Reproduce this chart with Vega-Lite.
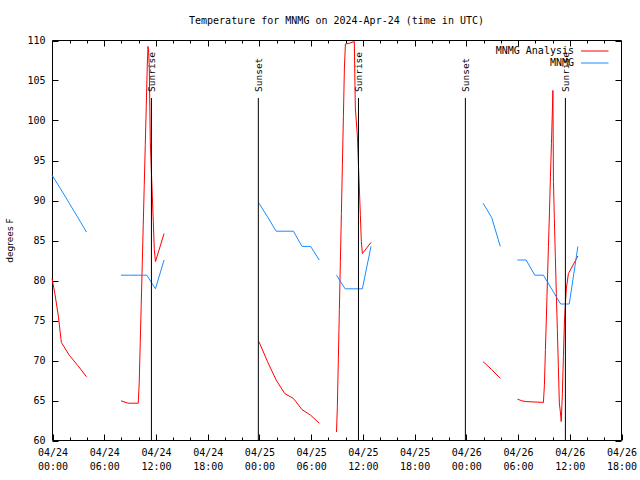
{
  "$schema": "https://vega.github.io/schema/vega-lite/v6.json",
  "width": 569,
  "height": 400,
  "autosize": "none",
  "padding": {"left": 52, "top": 40, "right": 19, "bottom": 40},
  "background": "white",
  "title": {"text": "Temperature for MNMG on 2024-Apr-24 (time in UTC)", "font": "DejaVu Sans Mono", "fontSize": 10, "fontWeight": "normal", "color": "black", "offset": 10},
  "config": {
    "font": "DejaVu Sans Mono",
    "view": {"stroke": "black", "strokeWidth": 1},
    "axis": {"tickColor": "black", "labelColor": "black", "domain": false, "grid": false, "tickWidth": 1, "ticks": true, "tickOpacity": 1, "tickOffset": 0.5, "zindex": 1}
  },
  "datasets": {
    "temps": [
      {"t": "2024-04-24T00:00:00Z", "v": 80.2, "s": "MNMG Analysis", "g": "r1"},
      {"t": "2024-04-24T00:20:00Z", "v": 78.3, "s": "MNMG Analysis", "g": "r1"},
      {"t": "2024-04-24T00:45:00Z", "v": 75.4, "s": "MNMG Analysis", "g": "r1"},
      {"t": "2024-04-24T01:05:00Z", "v": 72.2, "s": "MNMG Analysis", "g": "r1"},
      {"t": "2024-04-24T02:00:00Z", "v": 70.6, "s": "MNMG Analysis", "g": "r1"},
      {"t": "2024-04-24T03:00:00Z", "v": 69.3, "s": "MNMG Analysis", "g": "r1"},
      {"t": "2024-04-24T04:00:00Z", "v": 67.9, "s": "MNMG Analysis", "g": "r1"},
      {"t": "2024-04-24T08:00:00Z", "v": 64.9, "s": "MNMG Analysis", "g": "r2"},
      {"t": "2024-04-24T08:50:00Z", "v": 64.6, "s": "MNMG Analysis", "g": "r2"},
      {"t": "2024-04-24T10:00:00Z", "v": 64.6, "s": "MNMG Analysis", "g": "r2"},
      {"t": "2024-04-24T10:07:00Z", "v": 67.1, "s": "MNMG Analysis", "g": "r2"},
      {"t": "2024-04-24T10:14:00Z", "v": 72.1, "s": "MNMG Analysis", "g": "r2"},
      {"t": "2024-04-24T10:21:00Z", "v": 76.9, "s": "MNMG Analysis", "g": "r2"},
      {"t": "2024-04-24T10:28:00Z", "v": 81.9, "s": "MNMG Analysis", "g": "r2"},
      {"t": "2024-04-24T10:35:00Z", "v": 86.9, "s": "MNMG Analysis", "g": "r2"},
      {"t": "2024-04-24T10:42:00Z", "v": 91.8, "s": "MNMG Analysis", "g": "r2"},
      {"t": "2024-04-24T10:49:00Z", "v": 96.8, "s": "MNMG Analysis", "g": "r2"},
      {"t": "2024-04-24T10:56:00Z", "v": 101.7, "s": "MNMG Analysis", "g": "r2"},
      {"t": "2024-04-24T11:03:00Z", "v": 106.7, "s": "MNMG Analysis", "g": "r2"},
      {"t": "2024-04-24T11:08:00Z", "v": 109.2, "s": "MNMG Analysis", "g": "r2"},
      {"t": "2024-04-24T11:12:00Z", "v": 108.8, "s": "MNMG Analysis", "g": "r2"},
      {"t": "2024-04-24T11:17:00Z", "v": 106.7, "s": "MNMG Analysis", "g": "r2"},
      {"t": "2024-04-24T11:24:00Z", "v": 97.3, "s": "MNMG Analysis", "g": "r2"},
      {"t": "2024-04-24T11:31:00Z", "v": 94.0, "s": "MNMG Analysis", "g": "r2"},
      {"t": "2024-04-24T11:38:00Z", "v": 90.6, "s": "MNMG Analysis", "g": "r2"},
      {"t": "2024-04-24T11:45:00Z", "v": 87.3, "s": "MNMG Analysis", "g": "r2"},
      {"t": "2024-04-24T11:52:00Z", "v": 83.8, "s": "MNMG Analysis", "g": "r2"},
      {"t": "2024-04-24T12:00:00Z", "v": 82.3, "s": "MNMG Analysis", "g": "r2"},
      {"t": "2024-04-24T13:00:00Z", "v": 85.8, "s": "MNMG Analysis", "g": "r2"},
      {"t": "2024-04-25T00:00:00Z", "v": 72.3, "s": "MNMG Analysis", "g": "r3"},
      {"t": "2024-04-25T01:00:00Z", "v": 69.8, "s": "MNMG Analysis", "g": "r3"},
      {"t": "2024-04-25T02:00:00Z", "v": 67.5, "s": "MNMG Analysis", "g": "r3"},
      {"t": "2024-04-25T03:00:00Z", "v": 65.8, "s": "MNMG Analysis", "g": "r3"},
      {"t": "2024-04-25T04:00:00Z", "v": 65.2, "s": "MNMG Analysis", "g": "r3"},
      {"t": "2024-04-25T05:00:00Z", "v": 63.8, "s": "MNMG Analysis", "g": "r3"},
      {"t": "2024-04-25T06:00:00Z", "v": 63.1, "s": "MNMG Analysis", "g": "r3"},
      {"t": "2024-04-25T07:00:00Z", "v": 62.1, "s": "MNMG Analysis", "g": "r3"},
      {"t": "2024-04-25T09:00:00Z", "v": 61.0, "s": "MNMG Analysis", "g": "r4"},
      {"t": "2024-04-25T09:06:00Z", "v": 64.2, "s": "MNMG Analysis", "g": "r4"},
      {"t": "2024-04-25T09:13:00Z", "v": 70.2, "s": "MNMG Analysis", "g": "r4"},
      {"t": "2024-04-25T09:20:00Z", "v": 76.3, "s": "MNMG Analysis", "g": "r4"},
      {"t": "2024-04-25T09:27:00Z", "v": 82.3, "s": "MNMG Analysis", "g": "r4"},
      {"t": "2024-04-25T09:34:00Z", "v": 88.3, "s": "MNMG Analysis", "g": "r4"},
      {"t": "2024-04-25T09:41:00Z", "v": 94.4, "s": "MNMG Analysis", "g": "r4"},
      {"t": "2024-04-25T09:48:00Z", "v": 100.4, "s": "MNMG Analysis", "g": "r4"},
      {"t": "2024-04-25T09:55:00Z", "v": 106.5, "s": "MNMG Analysis", "g": "r4"},
      {"t": "2024-04-25T10:02:00Z", "v": 109.5, "s": "MNMG Analysis", "g": "r4"},
      {"t": "2024-04-25T10:30:00Z", "v": 109.6, "s": "MNMG Analysis", "g": "r4"},
      {"t": "2024-04-25T11:04:00Z", "v": 109.8, "s": "MNMG Analysis", "g": "r4"},
      {"t": "2024-04-25T11:11:00Z", "v": 101.5, "s": "MNMG Analysis", "g": "r4"},
      {"t": "2024-04-25T11:25:00Z", "v": 98.1, "s": "MNMG Analysis", "g": "r4"},
      {"t": "2024-04-25T11:32:00Z", "v": 94.8, "s": "MNMG Analysis", "g": "r4"},
      {"t": "2024-04-25T11:39:00Z", "v": 91.5, "s": "MNMG Analysis", "g": "r4"},
      {"t": "2024-04-25T11:46:00Z", "v": 88.1, "s": "MNMG Analysis", "g": "r4"},
      {"t": "2024-04-25T11:53:00Z", "v": 84.8, "s": "MNMG Analysis", "g": "r4"},
      {"t": "2024-04-25T12:00:00Z", "v": 83.3, "s": "MNMG Analysis", "g": "r4"},
      {"t": "2024-04-25T13:00:00Z", "v": 84.7, "s": "MNMG Analysis", "g": "r4"},
      {"t": "2024-04-26T02:00:00Z", "v": 69.8, "s": "MNMG Analysis", "g": "r5"},
      {"t": "2024-04-26T03:00:00Z", "v": 68.8, "s": "MNMG Analysis", "g": "r5"},
      {"t": "2024-04-26T04:00:00Z", "v": 67.7, "s": "MNMG Analysis", "g": "r5"},
      {"t": "2024-04-26T06:00:00Z", "v": 65.1, "s": "MNMG Analysis", "g": "r6"},
      {"t": "2024-04-26T06:30:00Z", "v": 64.9, "s": "MNMG Analysis", "g": "r6"},
      {"t": "2024-04-26T07:00:00Z", "v": 64.8, "s": "MNMG Analysis", "g": "r6"},
      {"t": "2024-04-26T09:00:00Z", "v": 64.7, "s": "MNMG Analysis", "g": "r6"},
      {"t": "2024-04-26T09:07:00Z", "v": 66.9, "s": "MNMG Analysis", "g": "r6"},
      {"t": "2024-04-26T09:14:00Z", "v": 71.3, "s": "MNMG Analysis", "g": "r6"},
      {"t": "2024-04-26T09:21:00Z", "v": 75.5, "s": "MNMG Analysis", "g": "r6"},
      {"t": "2024-04-26T09:28:00Z", "v": 80.0, "s": "MNMG Analysis", "g": "r6"},
      {"t": "2024-04-26T09:35:00Z", "v": 84.2, "s": "MNMG Analysis", "g": "r6"},
      {"t": "2024-04-26T09:42:00Z", "v": 88.4, "s": "MNMG Analysis", "g": "r6"},
      {"t": "2024-04-26T09:49:00Z", "v": 92.9, "s": "MNMG Analysis", "g": "r6"},
      {"t": "2024-04-26T09:56:00Z", "v": 97.1, "s": "MNMG Analysis", "g": "r6"},
      {"t": "2024-04-26T10:03:00Z", "v": 101.5, "s": "MNMG Analysis", "g": "r6"},
      {"t": "2024-04-26T10:06:00Z", "v": 103.7, "s": "MNMG Analysis", "g": "r6"},
      {"t": "2024-04-26T10:10:00Z", "v": 92.3, "s": "MNMG Analysis", "g": "r6"},
      {"t": "2024-04-26T10:16:00Z", "v": 87.7, "s": "MNMG Analysis", "g": "r6"},
      {"t": "2024-04-26T10:23:00Z", "v": 82.9, "s": "MNMG Analysis", "g": "r6"},
      {"t": "2024-04-26T10:30:00Z", "v": 78.3, "s": "MNMG Analysis", "g": "r6"},
      {"t": "2024-04-26T10:37:00Z", "v": 73.8, "s": "MNMG Analysis", "g": "r6"},
      {"t": "2024-04-26T10:44:00Z", "v": 69.2, "s": "MNMG Analysis", "g": "r6"},
      {"t": "2024-04-26T10:51:00Z", "v": 64.6, "s": "MNMG Analysis", "g": "r6"},
      {"t": "2024-04-26T10:58:00Z", "v": 63.5, "s": "MNMG Analysis", "g": "r6"},
      {"t": "2024-04-26T11:04:00Z", "v": 62.3, "s": "MNMG Analysis", "g": "r6"},
      {"t": "2024-04-26T11:08:00Z", "v": 64.0, "s": "MNMG Analysis", "g": "r6"},
      {"t": "2024-04-26T11:12:00Z", "v": 65.8, "s": "MNMG Analysis", "g": "r6"},
      {"t": "2024-04-26T11:19:00Z", "v": 70.4, "s": "MNMG Analysis", "g": "r6"},
      {"t": "2024-04-26T11:26:00Z", "v": 74.6, "s": "MNMG Analysis", "g": "r6"},
      {"t": "2024-04-26T11:33:00Z", "v": 77.1, "s": "MNMG Analysis", "g": "r6"},
      {"t": "2024-04-26T11:40:00Z", "v": 79.0, "s": "MNMG Analysis", "g": "r6"},
      {"t": "2024-04-26T11:54:00Z", "v": 80.8, "s": "MNMG Analysis", "g": "r6"},
      {"t": "2024-04-26T12:00:00Z", "v": 81.0, "s": "MNMG Analysis", "g": "r6"},
      {"t": "2024-04-26T13:00:00Z", "v": 83.0, "s": "MNMG Analysis", "g": "r6"},
      {"t": "2024-04-24T00:00:00Z", "v": 93.1, "s": "MNMG", "g": "b1"},
      {"t": "2024-04-24T01:00:00Z", "v": 91.4, "s": "MNMG", "g": "b1"},
      {"t": "2024-04-24T02:00:00Z", "v": 89.6, "s": "MNMG", "g": "b1"},
      {"t": "2024-04-24T03:00:00Z", "v": 87.8, "s": "MNMG", "g": "b1"},
      {"t": "2024-04-24T04:00:00Z", "v": 86.0, "s": "MNMG", "g": "b1"},
      {"t": "2024-04-24T08:00:00Z", "v": 80.6, "s": "MNMG", "g": "b2"},
      {"t": "2024-04-24T09:00:00Z", "v": 80.6, "s": "MNMG", "g": "b2"},
      {"t": "2024-04-24T10:00:00Z", "v": 80.6, "s": "MNMG", "g": "b2"},
      {"t": "2024-04-24T11:00:00Z", "v": 80.6, "s": "MNMG", "g": "b2"},
      {"t": "2024-04-24T12:00:00Z", "v": 78.9, "s": "MNMG", "g": "b2"},
      {"t": "2024-04-24T13:00:00Z", "v": 82.5, "s": "MNMG", "g": "b2"},
      {"t": "2024-04-25T00:00:00Z", "v": 89.6, "s": "MNMG", "g": "b3"},
      {"t": "2024-04-25T01:00:00Z", "v": 87.9, "s": "MNMG", "g": "b3"},
      {"t": "2024-04-25T02:00:00Z", "v": 86.1, "s": "MNMG", "g": "b3"},
      {"t": "2024-04-25T03:00:00Z", "v": 86.1, "s": "MNMG", "g": "b3"},
      {"t": "2024-04-25T04:00:00Z", "v": 86.1, "s": "MNMG", "g": "b3"},
      {"t": "2024-04-25T05:00:00Z", "v": 84.2, "s": "MNMG", "g": "b3"},
      {"t": "2024-04-25T06:00:00Z", "v": 84.2, "s": "MNMG", "g": "b3"},
      {"t": "2024-04-25T07:00:00Z", "v": 82.5, "s": "MNMG", "g": "b3"},
      {"t": "2024-04-25T09:00:00Z", "v": 80.6, "s": "MNMG", "g": "b4"},
      {"t": "2024-04-25T10:00:00Z", "v": 78.9, "s": "MNMG", "g": "b4"},
      {"t": "2024-04-25T11:00:00Z", "v": 78.9, "s": "MNMG", "g": "b4"},
      {"t": "2024-04-25T12:00:00Z", "v": 78.9, "s": "MNMG", "g": "b4"},
      {"t": "2024-04-25T13:00:00Z", "v": 84.2, "s": "MNMG", "g": "b4"},
      {"t": "2024-04-26T02:00:00Z", "v": 89.6, "s": "MNMG", "g": "b5"},
      {"t": "2024-04-26T03:00:00Z", "v": 87.8, "s": "MNMG", "g": "b5"},
      {"t": "2024-04-26T04:00:00Z", "v": 84.2, "s": "MNMG", "g": "b5"},
      {"t": "2024-04-26T06:00:00Z", "v": 82.5, "s": "MNMG", "g": "b6"},
      {"t": "2024-04-26T07:00:00Z", "v": 82.5, "s": "MNMG", "g": "b6"},
      {"t": "2024-04-26T08:00:00Z", "v": 80.6, "s": "MNMG", "g": "b6"},
      {"t": "2024-04-26T09:00:00Z", "v": 80.6, "s": "MNMG", "g": "b6"},
      {"t": "2024-04-26T10:00:00Z", "v": 78.8, "s": "MNMG", "g": "b6"},
      {"t": "2024-04-26T11:00:00Z", "v": 77.0, "s": "MNMG", "g": "b6"},
      {"t": "2024-04-26T12:00:00Z", "v": 77.0, "s": "MNMG", "g": "b6"},
      {"t": "2024-04-26T13:00:00Z", "v": 84.2, "s": "MNMG", "g": "b6"}
    ],
    "sun": [
      {"t": "2024-04-24T11:32:00Z", "label": "Sunrise"},
      {"t": "2024-04-24T23:56:00Z", "label": "Sunset"},
      {"t": "2024-04-25T11:33:00Z", "label": "Sunrise"},
      {"t": "2024-04-25T23:57:00Z", "label": "Sunset"},
      {"t": "2024-04-26T11:33:00Z", "label": "Sunrise"}
    ]
  },
  "resolve": {"axis": {"x": "independent", "y": "independent"}},
  "layer": [
    {
      "data": {"name": "temps"},
      "transform": [{"filter": "datum.s === 'MNMG Analysis'"}],
      "mark": {"type": "line", "strokeWidth": 1},
      "encoding": {
        "x": {"field": "t", "type": "temporal",
          "scale": {"type": "utc", "nice": false, "domain": [{"year": 2024, "month": 4, "date": 24, "hours": 0, "utc": true}, {"year": 2024, "month": 4, "date": 26, "hours": 18, "utc": true}]},
          "axis": {"orient": "bottom", "offset": -6, "tickSize": 6, "title": null,
            "values": [
              {"year": 2024, "month": 4, "date": 24, "hours": 0, "utc": true},
              {"year": 2024, "month": 4, "date": 24, "hours": 6, "utc": true},
              {"year": 2024, "month": 4, "date": 24, "hours": 12, "utc": true},
              {"year": 2024, "month": 4, "date": 24, "hours": 18, "utc": true},
              {"year": 2024, "month": 4, "date": 25, "hours": 0, "utc": true},
              {"year": 2024, "month": 4, "date": 25, "hours": 6, "utc": true},
              {"year": 2024, "month": 4, "date": 25, "hours": 12, "utc": true},
              {"year": 2024, "month": 4, "date": 25, "hours": 18, "utc": true},
              {"year": 2024, "month": 4, "date": 26, "hours": 0, "utc": true},
              {"year": 2024, "month": 4, "date": 26, "hours": 6, "utc": true},
              {"year": 2024, "month": 4, "date": 26, "hours": 12, "utc": true},
              {"year": 2024, "month": 4, "date": 26, "hours": 18, "utc": true}
            ],
            "labelExpr": "[utcFormat(datum.value, '%m/%d'), utcFormat(datum.value, '%H:%M')]",
            "labelFont": "DejaVu Sans Mono", "labelFontSize": 10, "labelPadding": 7, "labelLineHeight": 14,
            "labelFlush": false, "labelOverlap": false, "labelAlign": "center", "labelBaseline": "top"}},
        "y": {"field": "v", "type": "quantitative",
          "scale": {"domain": [60, 110], "nice": false, "zero": false},
          "axis": {"orient": "left", "offset": -6, "values": [60, 65, 70, 75, 80, 85, 90, 95, 100, 105, 110], "tickSize": 6,
            "labelFont": "DejaVu Sans Mono", "labelFontSize": 10, "labelPadding": 7,
            "title": "degrees F", "titleFont": "DejaVu Sans", "titleFontSize": 9, "titleFontWeight": "normal", "titleColor": "black", "titlePadding": 12}},
        "color": {"field": "s", "type": "nominal",
          "scale": {"domain": ["MNMG Analysis", "MNMG"], "range": ["#ff0000", "#1a8cff"]},
          "legend": {"orient": "none", "legendX": 536.75, "legendY": 5, "title": null, "symbolType": "M-2.5,0H2.5", "symbolSize": 121,
            "symbolStrokeWidth": 1, "labelAlign": "right", "labelOffset": -26.75, "labelFont": "DejaVu Sans Mono", "labelFontSize": 10,
            "labelColor": "black", "rowPadding": 1, "padding": 0}},
        "detail": {"field": "g", "type": "nominal"}
      }
    },
    {
      "data": {"name": "temps"},
      "transform": [{"filter": "datum.s === 'MNMG'"}],
      "mark": {"type": "line", "strokeWidth": 1},
      "encoding": {
        "x": {"field": "t", "type": "temporal",
          "axis": {"orient": "bottom", "offset": -3, "tickSize": 3, "labels": false, "title": null,
            "values": [
              {"year": 2024, "month": 4, "date": 24, "hours": 2, "utc": true},
              {"year": 2024, "month": 4, "date": 24, "hours": 4, "utc": true},
              {"year": 2024, "month": 4, "date": 24, "hours": 8, "utc": true},
              {"year": 2024, "month": 4, "date": 24, "hours": 10, "utc": true},
              {"year": 2024, "month": 4, "date": 24, "hours": 14, "utc": true},
              {"year": 2024, "month": 4, "date": 24, "hours": 16, "utc": true},
              {"year": 2024, "month": 4, "date": 24, "hours": 20, "utc": true},
              {"year": 2024, "month": 4, "date": 24, "hours": 22, "utc": true},
              {"year": 2024, "month": 4, "date": 25, "hours": 2, "utc": true},
              {"year": 2024, "month": 4, "date": 25, "hours": 4, "utc": true},
              {"year": 2024, "month": 4, "date": 25, "hours": 8, "utc": true},
              {"year": 2024, "month": 4, "date": 25, "hours": 10, "utc": true},
              {"year": 2024, "month": 4, "date": 25, "hours": 14, "utc": true},
              {"year": 2024, "month": 4, "date": 25, "hours": 16, "utc": true},
              {"year": 2024, "month": 4, "date": 25, "hours": 20, "utc": true},
              {"year": 2024, "month": 4, "date": 25, "hours": 22, "utc": true},
              {"year": 2024, "month": 4, "date": 26, "hours": 2, "utc": true},
              {"year": 2024, "month": 4, "date": 26, "hours": 4, "utc": true},
              {"year": 2024, "month": 4, "date": 26, "hours": 8, "utc": true},
              {"year": 2024, "month": 4, "date": 26, "hours": 10, "utc": true},
              {"year": 2024, "month": 4, "date": 26, "hours": 14, "utc": true},
              {"year": 2024, "month": 4, "date": 26, "hours": 16, "utc": true}
            ]}},
        "y": {"field": "v", "type": "quantitative",
          "axis": {"orient": "right", "offset": -6, "values": [60, 65, 70, 75, 80, 85, 90, 95, 100, 105, 110], "tickSize": 6, "labels": false, "title": null}},
        "color": {"field": "s", "type": "nominal"},
        "detail": {"field": "g", "type": "nominal"}
      }
    },
    {
      "data": {"name": "sun"},
      "mark": {"type": "rule", "color": "black", "strokeWidth": 1},
      "encoding": {
        "x": {"field": "t", "type": "temporal",
          "axis": {"orient": "top", "offset": -6, "tickSize": 6, "labels": false, "title": null,
            "values": [
              {"year": 2024, "month": 4, "date": 24, "hours": 6, "utc": true},
              {"year": 2024, "month": 4, "date": 24, "hours": 12, "utc": true},
              {"year": 2024, "month": 4, "date": 24, "hours": 18, "utc": true},
              {"year": 2024, "month": 4, "date": 25, "hours": 0, "utc": true},
              {"year": 2024, "month": 4, "date": 25, "hours": 6, "utc": true},
              {"year": 2024, "month": 4, "date": 25, "hours": 12, "utc": true},
              {"year": 2024, "month": 4, "date": 25, "hours": 18, "utc": true},
              {"year": 2024, "month": 4, "date": 26, "hours": 0, "utc": true},
              {"year": 2024, "month": 4, "date": 26, "hours": 6, "utc": true},
              {"year": 2024, "month": 4, "date": 26, "hours": 12, "utc": true}
            ]}},
        "y": {"datum": 102.75, "type": "quantitative", "axis": null},
        "y2": {"datum": 60}
      }
    },
    {
      "data": {"name": "sun"},
      "mark": {"type": "text", "angle": 270, "align": "left", "baseline": "middle", "dy": 1, "font": "DejaVu Sans Mono", "fontSize": 9.5, "color": "black"},
      "encoding": {
        "x": {"field": "t", "type": "temporal",
          "axis": {"orient": "top", "offset": -3, "tickSize": 3, "labels": false, "title": null,
            "values": [
              {"year": 2024, "month": 4, "date": 24, "hours": 2, "utc": true},
              {"year": 2024, "month": 4, "date": 24, "hours": 4, "utc": true},
              {"year": 2024, "month": 4, "date": 24, "hours": 8, "utc": true},
              {"year": 2024, "month": 4, "date": 24, "hours": 10, "utc": true},
              {"year": 2024, "month": 4, "date": 24, "hours": 14, "utc": true},
              {"year": 2024, "month": 4, "date": 24, "hours": 16, "utc": true},
              {"year": 2024, "month": 4, "date": 24, "hours": 20, "utc": true},
              {"year": 2024, "month": 4, "date": 24, "hours": 22, "utc": true},
              {"year": 2024, "month": 4, "date": 25, "hours": 2, "utc": true},
              {"year": 2024, "month": 4, "date": 25, "hours": 4, "utc": true},
              {"year": 2024, "month": 4, "date": 25, "hours": 8, "utc": true},
              {"year": 2024, "month": 4, "date": 25, "hours": 10, "utc": true},
              {"year": 2024, "month": 4, "date": 25, "hours": 14, "utc": true},
              {"year": 2024, "month": 4, "date": 25, "hours": 16, "utc": true},
              {"year": 2024, "month": 4, "date": 25, "hours": 20, "utc": true},
              {"year": 2024, "month": 4, "date": 25, "hours": 22, "utc": true},
              {"year": 2024, "month": 4, "date": 26, "hours": 2, "utc": true},
              {"year": 2024, "month": 4, "date": 26, "hours": 4, "utc": true},
              {"year": 2024, "month": 4, "date": 26, "hours": 8, "utc": true},
              {"year": 2024, "month": 4, "date": 26, "hours": 10, "utc": true},
              {"year": 2024, "month": 4, "date": 26, "hours": 14, "utc": true},
              {"year": 2024, "month": 4, "date": 26, "hours": 16, "utc": true}
            ]}},
        "y": {"datum": 103.5, "type": "quantitative", "axis": null},
        "text": {"field": "label", "type": "nominal"}
      }
    }
  ]
}
